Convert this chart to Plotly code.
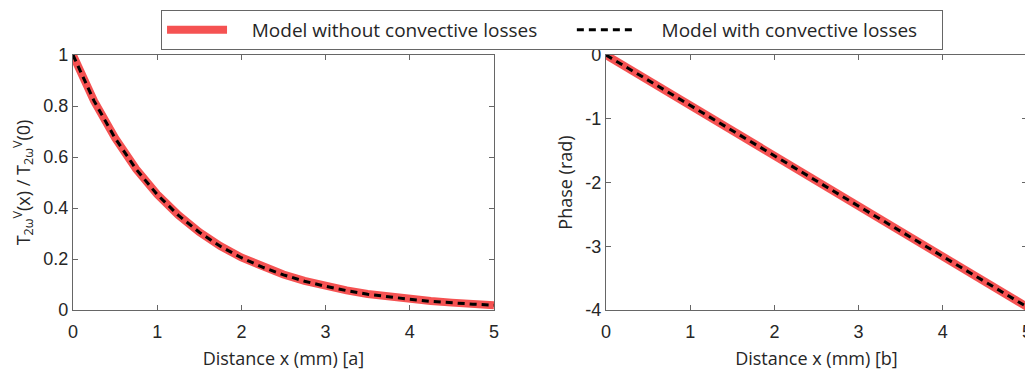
import plotly.graph_objects as go

# Values
x_mm = [0, 0.25, 0.5, 0.75, 1, 1.25, 1.5, 1.75, 2, 2.25, 2.5, 2.75, 3, 3.25, 3.5, 3.75, 4, 4.25, 4.5, 4.75, 5]
amp_no_conv = [1.0, 0.82, 0.675, 0.553, 0.454, 0.373, 0.306, 0.251, 0.206, 0.169, 0.139, 0.114, 0.093, 0.077, 0.063, 0.052, 0.042, 0.035, 0.029, 0.023, 0.019]
amp_conv = [1.0, 0.82, 0.674, 0.552, 0.453, 0.372, 0.305, 0.25, 0.205, 0.168, 0.138, 0.113, 0.093, 0.076, 0.062, 0.051, 0.042, 0.034, 0.028, 0.023, 0.019]
phase_x = [0, 1, 2, 3, 4, 5]
phase_no_conv = [0.0, -0.79, -1.58, -2.37, -3.16, -3.95]
phase_conv = [0.0, -0.79, -1.58, -2.37, -3.16, -3.95]

x_ticks = [0, 1, 2, 3, 4, 5]
amp_ticks = [0, 0.2, 0.4, 0.6, 0.8, 1]
amp_ticktext = ["0", "0.2", "0.4", "0.6", "0.8", "1"]
phase_ticks = [-4, -3, -2, -1, 0]
phase_ticktext = ["-4", "-3", "-2", "-1", "0"]

name_a = "Model without convective losses"
name_b = "Model with convective losses"
red = "#f55252"
NB = "\u00a0"

fig = go.Figure()
fig.add_trace(go.Scatter(x=x_mm, y=amp_no_conv, mode="lines", name=NB * 4 + name_a + NB * 6,
                         line=dict(color=red, width=8), xaxis="x", yaxis="y"))
fig.add_trace(go.Scatter(x=x_mm, y=amp_conv, mode="lines", name=NB * 4 + name_b + NB * 4,
                         line=dict(color="black", width=3, dash="7px,5px"), xaxis="x", yaxis="y"))
fig.add_trace(go.Scatter(x=phase_x, y=phase_no_conv, mode="lines", name=name_a, showlegend=False,
                         line=dict(color=red, width=8), xaxis="x2", yaxis="y2"))
fig.add_trace(go.Scatter(x=phase_x, y=phase_conv, mode="lines", name=name_b, showlegend=False,
                         line=dict(color="black", width=3, dash="7px,5px"), xaxis="x2", yaxis="y2"))

tickfont = dict(family="Liberation Sans, Arial", size=18, color="#262626")
titlefont = dict(family="Open Sans", size=18, color="#262626")
axcommon = dict(showline=True, linecolor="#666", linewidth=1, mirror="ticks", ticks="inside",
                ticklen=5, tickcolor="#666", showgrid=False, zeroline=False, tickfont=tickfont,
                automargin=False)

# page body adds an 8px offset; figure size compensates so it fills the 1033x371 window
W, H = 1025, 363

fig.update_layout(
    width=W, height=H,
    margin=dict(l=0, r=0, t=0, b=0),
    plot_bgcolor="white", paper_bgcolor="white",
    xaxis=dict(domain=[0.0634, 0.4741], range=[0, 5], tickvals=x_ticks, anchor="y",
               ticklabelstandoff=5,
               title=dict(text="Distance x (mm) [a]", font=titlefont, standoff=11), **axcommon),
    yaxis=dict(domain=[0.168, 0.8705], range=[0, 1], anchor="x",
               tickvals=amp_ticks, ticktext=amp_ticktext,
               title=dict(text="T<sub>2ω</sub><sup>V</sup>(x) / T<sub>2ω</sub><sup>V</sup>(0)", font=titlefont, standoff=8),
               **axcommon),
    xaxis2=dict(domain=[0.5834, 0.9941], range=[0, 5], tickvals=x_ticks, anchor="y2",
                ticklabelstandoff=5,
                title=dict(text="Distance x (mm) [b]", font=titlefont, standoff=11), **axcommon),
    yaxis2=dict(domain=[0.168, 0.8705], range=[-4, 0], anchor="x2",
                tickvals=phase_ticks, ticktext=phase_ticktext,
                title=dict(text="Phase (rad)", font=titlefont, standoff=8), **axcommon),
    legend=dict(orientation="h", x=0.1493, y=0.995, xanchor="left", yanchor="top",
                bordercolor="#666", borderwidth=1, bgcolor="white",
                font=dict(family="Open Sans", size=19, color="#262626"),
                itemwidth=60),
    showlegend=True,
)

fig.write_html("out.html")
